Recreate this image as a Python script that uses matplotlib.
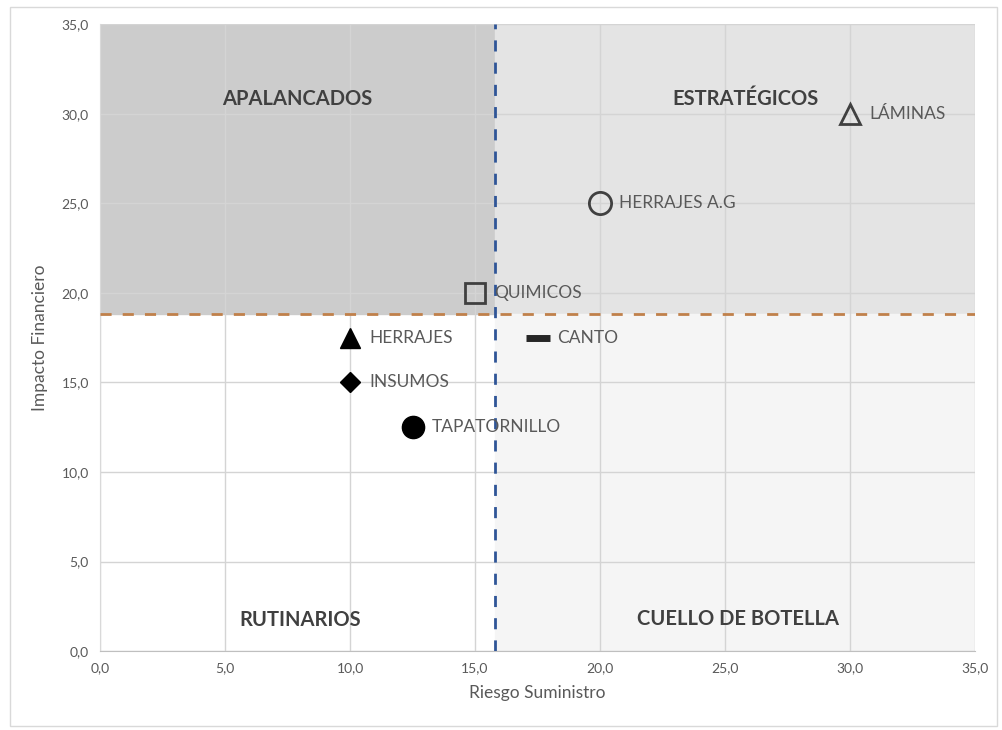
import matplotlib.pyplot as plt
from matplotlib.patches import Rectangle

plt.rcParams['font.family'] = ['Lato', 'DejaVu Sans']

# data
nombres = ["LÁMINAS", "HERRAJES A.G", "QUIMICOS", "HERRAJES", "CANTO", "INSUMOS", "TAPATORNILLO"]
riesgo = [30.0, 20.0, 15.0, 10.0, 17.5, 10.0, 12.5]
impacto = [30.0, 25.0, 20.0, 17.5, 17.5, 15.0, 12.5]
marcadores = ["^", "o", "s", "^", "_", "D", "o"]
rellenos = ["none", "none", "none", "black", "#262626", "black", "black"]
limite_x = 15.8
limite_y = 18.8
cuadrantes = ["APALANCADOS", "ESTRATÉGICOS", "RUTINARIOS", "CUELLO DE BOTELLA"]
cuadrantes_pos = [(7.9, 30.8), (25.8, 30.8), (8.0, 1.75), (25.5, 1.8)]
ticks = [0, 5, 10, 15, 20, 25, 30, 35]

fig = plt.figure(figsize=(10.03, 7.30), dpi=100)
ax = fig.add_axes([0.0997, 0.108, 0.8724, 0.859])

# outer chart border
fig.add_artist(Rectangle((10/1003, 0.005), 987/1003, 1 - 7/730 - 0.005, transform=fig.transFigure,
                         fill=False, edgecolor="#d9d9d9", linewidth=1))

# quadrant backgrounds
ax.add_patch(Rectangle((0, limite_y), limite_x, 35 - limite_y, color="#cccccc", zorder=0))
ax.add_patch(Rectangle((limite_x, limite_y), 35 - limite_x, 35 - limite_y, color="#e4e4e4", zorder=0))
ax.add_patch(Rectangle((limite_x, 0), 35 - limite_x, limite_y, color="#f5f5f5", zorder=0))

ax.set_xlim(0, 35)
ax.set_ylim(0, 35)
ax.set_xticks(ticks)
ax.set_yticks(ticks)
ax.set_xticklabels([f"{t:.1f}".replace(".", ",") for t in ticks])
ax.set_yticklabels([f"{t:.1f}".replace(".", ",") for t in ticks])
ax.grid(True, color="#d4d4d4", linewidth=1, zorder=1)
ax.set_axisbelow(True)
for s in ["top", "right"]:
    ax.spines[s].set_visible(False)
ax.spines["left"].set_color("#d9d9d9")
ax.spines["bottom"].set_color("#bfbfbf")
ax.tick_params(length=0, labelsize=10, colors="#595959", pad=8)

ax.axvline(limite_x, color="#2f5597", linestyle=(0, (4, 4)), linewidth=2, zorder=3)
ax.axhline(limite_y, color="#c0804a", linestyle=(0, (4, 4)), linewidth=2, zorder=3)

for n, x, y, m, f in zip(nombres, riesgo, impacto, marcadores, rellenos):
    if m == "_":
        ax.plot(x, y, marker=m, markersize=17, markeredgewidth=5, color=f, zorder=4)
    else:
        size = {"^": 15, "o": 16, "s": 15, "D": 10}[m]
        if f == "none":
            ax.plot(x, y, marker=m, markersize=size, markerfacecolor="none",
                    markeredgecolor="#404040", markeredgewidth=2, zorder=4)
        else:
            ax.plot(x, y, marker=m, markersize=size, color=f, zorder=4)
    ax.annotate(n, (x, y), xytext=(14, 0), textcoords="offset points", va="center",
                ha="left", fontsize=12.5, color="#595959", zorder=5)

for t, (x, y) in zip(cuadrantes, cuadrantes_pos):
    ax.text(x, y, t, ha="center", va="center", fontsize=14.5, fontweight="bold", color="#404040", zorder=5)

ax.set_xlabel("Riesgo Suministro", fontsize=12.5, color="#595959", labelpad=8)
ax.set_ylabel("Impacto Financiero", fontsize=12.5, color="#595959", labelpad=10)

fig.savefig("out.png", dpi=100)
